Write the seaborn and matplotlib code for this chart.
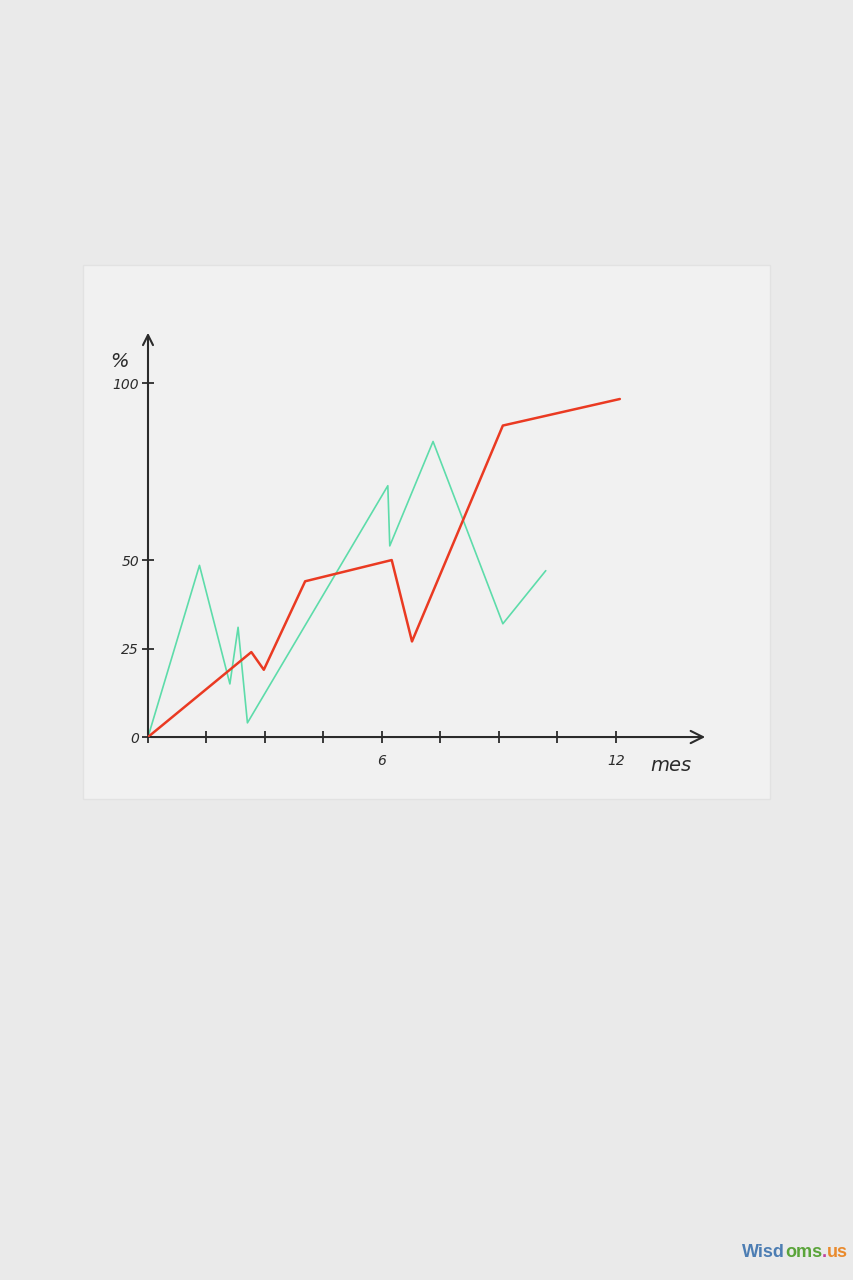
import pandas as pd
import matplotlib.pyplot as plt
import matplotlib.patches as mpatches
import seaborn as sns

# datos (mes, %)
meses_rojo = [0, 2.65, 2.97, 4.03, 6.25, 6.77, 9.1, 12.1]
pct_rojo = [0, 24, 19, 44, 50, 27, 88, 95.5]

meses_verde = [0, 1.32, 2.1, 2.31, 2.55, 6.15, 6.2, 7.31, 9.1, 10.2]
pct_verde = [0, 48.5, 15, 31, 4, 71, 54, 83.5, 32, 47]

xticks = [0, 1.5, 3, 4.5, 6, 7.5, 9, 10.5, 12]
xtick_labels = ['', '', '', '', '6', '', '', '', '12']
yticks = [0, 25, 50, 100]
ytick_labels = ['0', '25', '50', '100']

rojo = '#ea3a22'
verde = '#5ddcaa'
tinta = '#2b2b2b'

sns.set_theme(style='white')
plt.rcParams['font.family'] = ['DejaVu Sans']

fig = plt.figure(figsize=(8.54, 12.8), dpi=100, facecolor='#eaeaea')

# fondo y hoja de papel
bg = fig.add_axes([0, 0, 1, 1], zorder=0)
bg.set_axis_off()
bg.set_xlim(0, 1)
bg.set_ylim(0, 1)
bg.add_patch(mpatches.Rectangle((0.097, 0.376), 0.805, 0.417,
                                facecolor='#f1f1f1', edgecolor='#e2e2e2', lw=1))

# marca de agua
t = bg.text(0.869, 0.018, 'Wisd', color='#4c7db3', fontsize=13,
            fontweight='bold', family='Liberation Sans', ha='left', va='baseline')
for trozo, col in [('oms', '#5aa43a'), ('.', '#c2409c'), ('us', '#e98a2c')]:
    t = bg.annotate(trozo, xy=(1, 0), xycoords=t, color=col, fontsize=13,
                    fontweight='bold', family='Liberation Sans',
                    ha='left', va='bottom')

ax = fig.add_axes([0.1733, 0.4242, 0.6557, 0.318], zorder=1)
ax.patch.set_alpha(0)

df_rojo = pd.DataFrame({'mes': meses_rojo, 'pct': pct_rojo})
df_verde = pd.DataFrame({'mes': meses_verde, 'pct': pct_verde})

sns.lineplot(data=df_verde, x='mes', y='pct', sort=False, color=verde, lw=1.2, ax=ax)
sns.lineplot(data=df_rojo, x='mes', y='pct', sort=False, color=rojo, lw=1.8, ax=ax)

ax.set_xlim(0, 14.36)
ax.set_ylim(0, 115)
for s in ax.spines.values():
    s.set_visible(False)

# ejes con flecha
ax.annotate('', xy=(1, 0), xytext=(0, 0), xycoords='axes fraction',
            arrowprops=dict(arrowstyle='->', lw=1.5, color=tinta, mutation_scale=22))
ax.annotate('', xy=(0, 1), xytext=(0, 0), xycoords='axes fraction',
            arrowprops=dict(arrowstyle='->', lw=1.5, color=tinta, mutation_scale=18))

ax.set_xticks(xticks)
ax.set_xticklabels(xtick_labels, fontstyle='italic', fontsize=10, color=tinta)
ax.set_yticks(yticks)
ax.set_yticklabels(ytick_labels, fontstyle='italic', fontsize=10, color=tinta)
ax.tick_params(axis='x', bottom=True, direction='inout', length=8, width=1.3,
               color=tinta, pad=8)
ax.tick_params(axis='y', left=True, direction='inout', length=9, width=1.3,
               color=tinta, pad=2)
ax.set_xlabel('')
ax.set_ylabel('')

ax.text(-0.72, 106, '%', fontsize=14, fontstyle='italic', color=tinta,
        ha='center', va='center', clip_on=False)
ax.text(13.4, -8, 'mes', fontsize=14, fontstyle='italic', color=tinta,
        ha='center', va='center', clip_on=False)

fig.savefig('out.png', dpi=100, facecolor=fig.get_facecolor())
